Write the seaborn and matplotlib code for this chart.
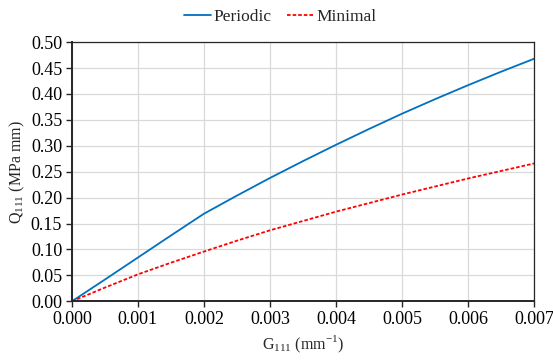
import numpy as np
import pandas as pd
import matplotlib
matplotlib.use('Agg')
import matplotlib.pyplot as plt
import seaborn as sns

g111 = [0.0, 0.0005, 0.001, 0.0015, 0.002, 0.0025, 0.003, 0.0035, 0.004,
        0.0045, 0.005, 0.0055, 0.006, 0.0065, 0.007]
periodic = [0.0, 0.042, 0.0845, 0.127, 0.169, 0.204, 0.238, 0.2705, 0.302,
            0.3325, 0.362, 0.390, 0.417, 0.443, 0.468]
minimal = [0.0, 0.0265, 0.052, 0.0745, 0.096, 0.117, 0.137, 0.155, 0.173,
           0.1895, 0.206, 0.2215, 0.237, 0.2515, 0.266]

df = pd.DataFrame({
    'G': g111 * 2,
    'Q': periodic + minimal,
    'series': ['Periodic'] * len(g111) + ['Minimal'] * len(g111),
})

sns.set_style('white')
plt.rcParams['font.family'] = ['Liberation Serif', 'DejaVu Serif']
plt.rcParams['mathtext.fontset'] = 'custom'
plt.rcParams['mathtext.rm'] = 'Liberation Serif'
plt.rcParams['font.size'] = 11

fig, ax = plt.subplots(figsize=(5.53, 3.6), dpi=100)
sns.lineplot(data=df, x='G', y='Q', hue='series', style='series',
             palette={'Periodic': '#0070C0', 'Minimal': '#FF0000'},
             dashes={'Periodic': '', 'Minimal': (2, 1.1)},
             linewidth=1.3, ax=ax)

ax.set_xlim(0, 0.007)
ax.set_ylim(0, 0.5)
ax.set_xticks(np.arange(0, 0.0071, 0.001))
ax.set_yticks(np.arange(0, 0.501, 0.05))
ax.xaxis.set_major_formatter(matplotlib.ticker.FormatStrFormatter('%.3f'))
ax.yaxis.set_major_formatter(matplotlib.ticker.FormatStrFormatter('%.2f'))
ax.grid(True, color='#d9d9d9', linewidth=0.9)
ax.set_axisbelow(True)
for s in ax.spines.values():
    s.set_color('#262626')
    s.set_linewidth(0.9)
ax.spines['left'].set_linewidth(1.4)
ax.spines['bottom'].set_linewidth(1.4)
ax.tick_params(axis='both', direction='out', length=4, width=1,
               color='#262626', labelsize=13, labelcolor='black',
               bottom=True, left=True, pad=3)

ax.set_xlabel('G$_{111}$ (mm$^{-1}$)', fontsize=11.5, labelpad=4)
ax.set_ylabel('Q$_{111}$ (MPa mm)', fontsize=11.5, labelpad=3)

leg = ax.legend(loc='lower center', bbox_to_anchor=(0.45, 1.02), ncol=2,
                frameon=False, fontsize=12.5, handlelength=1.6,
                handletextpad=0.1, columnspacing=0.9, borderaxespad=0.3)

fig.subplots_adjust(left=0.13, right=0.966, top=0.883, bottom=0.163)
fig.savefig('out.png', dpi=100)
plt.close()
